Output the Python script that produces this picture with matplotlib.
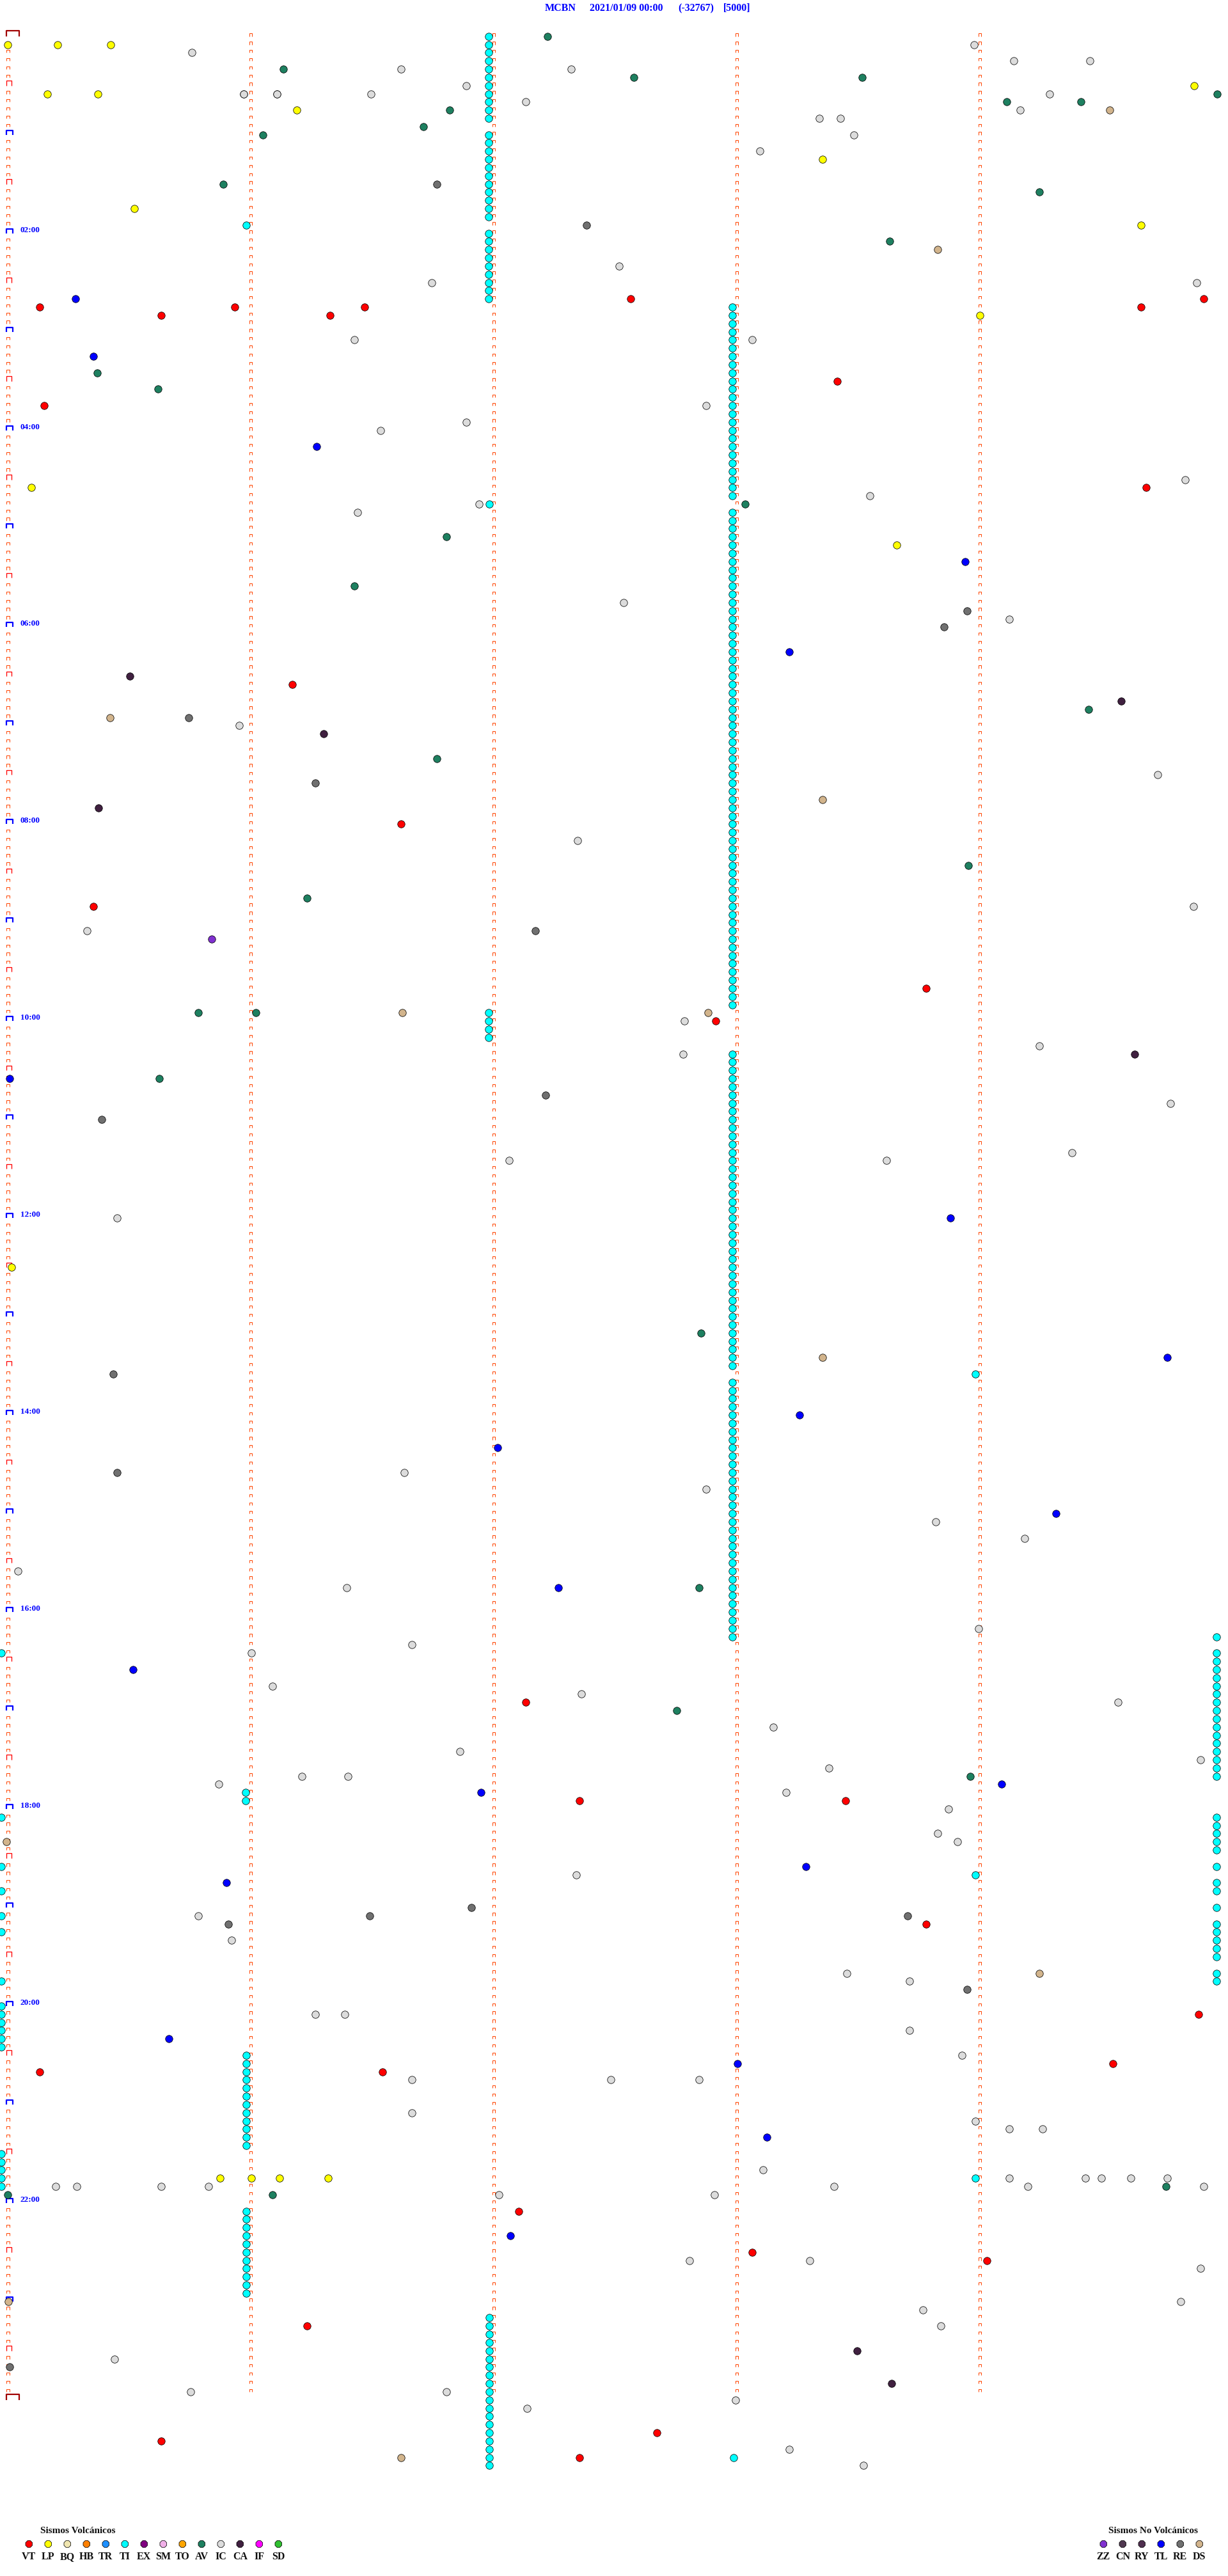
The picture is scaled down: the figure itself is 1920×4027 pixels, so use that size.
import matplotlib
matplotlib.use("Agg")
import matplotlib.pyplot as plt
from matplotlib.collections import LineCollection
import numpy as np

# ---------------- data: events as (row of 5 minutes, seconds within the row) ----------------
VT_row = [33, 34, 33, 34, 33, 32, 33, 32, 42, 45, 55, 79, 96, 106, 116, 120, 203, 215, 215, 230,
          241, 248, 248, 247, 265, 270, 271, 279, 292, 293, 295]
VT_sec = [8.1, 38.1, 56.3, 79.8, 88.4, 154.0, 280.1, 295.5, 205.1, 9.3, 281.3, 70.5, 97.3, 21.5, 227.0,
          175.1, 128.1, 141.4, 207.1, 227.0, 294.3, 8.1, 92.8, 273.2, 126.5, 184.0, 242.0, 74.2,
          160.5, 38.1, 141.4]

LP_row = [1, 1, 1, 7, 7, 9, 6, 15, 21, 23, 34, 55, 62, 150, 261, 261, 261, 261]
LP_sec = [0.3, 12.6, 25.7, 10.0, 22.5, 71.6, 293.1, 201.4, 31.6, 280.1, 240.3, 6.1, 219.7, 1.2,
          52.7, 60.4, 67.3, 79.4]

TL_row = [32, 39, 50, 64, 75, 127, 144, 161, 168, 172, 180, 189, 199, 213, 214, 223, 225, 244,
          247, 256, 268]
TL_sec = [17.0, 21.5, 76.6, 236.7, 193.3, 0.8, 233.0, 286.6, 195.8, 121.2, 259.0, 136.2, 31.2,
          245.6, 117.1, 197.4, 54.3, 40.1, 180.4, 187.7, 124.4]

AV_row = [0, 4, 5, 5, 7, 9, 8, 8, 11, 12, 18, 19, 25, 41, 43, 57, 61, 67, 82, 88, 101, 105, 119,
          119, 127, 158, 189, 204, 212, 263, 262, 263]
AV_sec = [133.5, 68.3, 154.8, 211.2, 298.9, 109.4, 246.9, 265.3, 102.9, 63.2, 53.5, 254.9, 218.0,
          22.3, 37.3, 182.4, 108.6, 85.9, 267.1, 106.2, 237.5, 74.2, 47.4, 61.6, 37.7, 171.4,
          171.0, 165.4, 237.9, 65.7, 286.2, 0.3]

IC_row = [2, 1, 3, 3, 4, 4, 7, 7, 7, 6, 8, 9, 7, 10, 10, 12, 14, 28, 30, 30, 37, 37, 45, 47, 48,
          57, 56, 54, 58, 69, 71, 84, 90, 98, 106, 109, 120, 123, 124, 130, 136, 137, 137, 144,
          175, 177, 181, 183, 187, 189, 194, 196, 197, 201, 202, 203, 206, 209, 210, 211, 212,
          212, 213, 214, 216, 219, 220, 224, 229, 232, 236, 237, 241, 241, 243, 249, 249, 249,
          246, 253, 254, 255, 255, 260, 262, 262, 262, 262, 262, 261, 262, 261, 261, 261, 261,
          262, 263, 263, 271, 271, 272, 276, 277, 279, 283, 288, 287, 287, 289, 294, 296, 7, 7]
IC_sec = [45.7, 238.9, 248.6, 267.4, 97.3, 139.4, 58.6, 66.7, 90.0, 113.5, 128.2, 250.2, 257.5,
          200.6, 205.9, 209.1, 186.0, 151.2, 105.0, 293.8, 85.9, 184.0, 172.7, 113.5, 92.4, 116.7,
          213.2, 291.0, 86.7, 152.4, 247.6, 57.5, 284.1, 141.0, 293.0, 19.9, 167.4, 254.9, 167.0,
          287.4, 263.0, 124.0, 217.2, 27.2, 98.1, 172.7, 229.4, 251.3, 2.8, 83.9, 239.9, 100.1,
          60.4, 65.7, 141.9, 274.4, 189.3, 111.9, 294.7, 203.0, 72.9, 84.3, 52.3, 192.5, 232.6,
          229.8, 234.7, 140.6, 47.4, 55.5, 207.5, 222.9, 76.2, 83.5, 222.9, 100.1, 149.1, 171.0,
          235.9, 100.1, 239.1, 247.6, 255.7, 186.8, 49.8, 12.1, 17.4, 38.1, 204.3, 247.6, 252.1,
          266.3, 270.3, 277.6, 286.6, 295.5, 121.6, 174.7, 168.6, 198.2, 294.7, 289.8, 226.2,
          230.6, 26.7, 180.0, 45.4, 108.6, 128.5, 193.3, 211.6, 58.6, 66.7]

RE_row = [18, 23, 70, 72, 83, 91, 109, 129, 132, 163, 175, 230, 229, 228, 229, 238, 284]
RE_sec = [106.2, 143.1, 237.1, 231.4, 45.0, 76.2, 130.5, 133.0, 23.5, 26.3, 27.2, 54.7, 89.6,
          114.7, 222.5, 237.1, 0.8]

CA_row = [78, 85, 81, 94, 124, 282, 286]
CA_sec = [30.4, 78.2, 275.2, 22.7, 278.5, 210.0, 218.5]

ZZ_row = [110]
ZZ_sec = [50.7]

DS_row = [9, 26, 83, 93, 119, 119, 161, 236, 220, 295, 276]
DS_sec = [272.3, 229.8, 25.5, 201.4, 97.7, 173.1, 201.4, 254.9, 0.0, 97.3, 0.4]

TI_row = [57, 163, 224, 261, 295, 23, 214, 215]
TI_sec = [119.2, 239.1, 239.1, 239.1, 179.5, 59.2, 59.0, 59.0]

# runs of consecutive tremor (TI) rows: first row, last row, seconds
TI_run_first = [0, 12, 24, 119, 278, 33, 58, 124, 164, 246, 265,
                195, 197, 217, 223, 225, 228, 230, 236,
                197, 217, 223, 226, 229, 231, 237, 240, 258]
TI_run_last = [10, 22, 32, 122, 296, 56, 118, 162, 195, 257, 275,
               195, 212, 221, 223, 226, 228, 234, 237,
               197, 217, 223, 226, 229, 231, 237, 245, 262]
TI_run_sec = [119.0, 119.0, 119.0, 119.0, 119.2, 179.1, 179.1, 179.1, 179.1, 59.2, 59.2,
              298.7, 298.7, 298.7, 298.7, 298.7, 298.7, 298.7, 298.7,
              -1.3, -1.3, -1.3, -1.3, -1.3, -1.3, -1.3, -1.3, -1.3]

volc_codes = ["VT", "LP", "BQ", "HB", "TR", "TI", "EX", "SM", "TO", "AV", "IC", "CA", "IF", "SD"]
volc_colors = ["#FF0000", "#FFFF00", "#F0E6B0", "#FF8000", "#1E90FF", "#00FFFF", "#800080",
               "#F0B0E8", "#FFA500", "#1E8060", "#DCDCDC", "#402040", "#FF00FF", "#30C030"]
novolc_codes = ["ZZ", "CN", "RY", "TL", "RE", "DS"]
novolc_colors = ["#8030D0", "#503850", "#4F2F4F", "#0000FF", "#707070", "#D2B48C"]

hour_labels = ["02:00", "04:00", "06:00", "08:00", "10:00", "12:00", "14:00", "16:00", "18:00",
               "20:00", "22:00"]
n_rows = 288          # 24 h of 5-minute rows
minute_cols = [0, 1, 2, 3, 4]

title_parts = ["MCBN", "2021/01/09 00:00", "(-32767)", "[5000]"]

# ---------------- figure ----------------
W, H, DPI = 1920, 4027, 100
fig = plt.figure(figsize=(W / DPI, H / DPI), dpi=DPI)
ax = fig.add_axes([0, 0, 1, 1])
X0, SX = 10.3, 6.333      # pixel of second 0, pixels per second
Y0, SY = 56.7, 12.83      # pixel of row 0, pixels per row
ax.set_xlim(-X0 / SX, (W - X0) / SX)
ax.set_ylim((H - Y0) / SY, -Y0 / SY)
ax.axis("off")

px = 1.0 / SX   # one pixel in seconds
py = 1.0 / SY   # one pixel in rows
LW1 = 72.0 / DPI


def cap(s, r, w, h):
    return [(s, r), (s, r - h * py), (s + w * px, r - h * py), (s + w * px, r)]


# minute columns of small markers
segs = []
for c in minute_cols:
    for r in range(n_rows):
        if c == 0 and r % 6 == 0:
            continue
        segs.append(cap(c * 60, r, 4.2, 4.3))
ax.add_collection(LineCollection(segs, colors="#FF4500", linewidths=LW1, zorder=1))

# half-hour / hour / day markers on first column
red_segs, blue_segs, dark_segs = [], [], []
for r in range(0, n_rows + 1, 6):
    if r == 0 or r == n_rows:
        dark_segs.append(cap(0 - 0.3 * px, r, 20, 9))
    elif r % 12 == 0:
        blue_segs.append(cap(0 - 0.3 * px, r, 10, 7))
    else:
        red_segs.append(cap(0, r, 8, 7.5))
ax.add_collection(LineCollection(red_segs, colors="#FF0000", linewidths=1.3 * LW1, zorder=1))
ax.add_collection(LineCollection(blue_segs, colors="#0000FF", linewidths=2.2 * LW1, zorder=1))
ax.add_collection(LineCollection(dark_segs, colors="#A00000", linewidths=2.2 * LW1, zorder=1))

for i, lab in enumerate(hour_labels):
    r = (i + 1) * 24
    ax.text(21.5 * px, r - 5 * py, lab, color="#0000FF", fontsize=9.5, fontweight="bold",
            family="Liberation Serif", ha="left", va="center", zorder=3)

# ---------------- events ----------------
DOT = 68
EW = 0.75 * LW1
col = dict(zip(volc_codes + novolc_codes, volc_colors + novolc_colors))

ti_r, ti_s = list(TI_row), list(TI_sec)
for a, b, s in zip(TI_run_first, TI_run_last, TI_run_sec):
    for r in range(a, b + 1):
        ti_r.append(r)
        ti_s.append(s)

layers = [("IC", IC_row, IC_sec), ("DS", DS_row, DS_sec), ("RE", RE_row, RE_sec),
          ("CA", CA_row, CA_sec), ("ZZ", ZZ_row, ZZ_sec), ("AV", AV_row, AV_sec),
          ("TI", ti_r, ti_s), ("LP", LP_row, LP_sec), ("TL", TL_row, TL_sec),
          ("VT", VT_row, VT_sec)]
for code, rr, ss in layers:
    ax.scatter(ss, rr, s=DOT, c=col[code], edgecolors="black", linewidths=EW, zorder=2)

# ---------------- title ----------------
title_x = [852, 922, 1060, 1131]
for t, x in zip(title_parts, title_x):
    fig.text(x / W, 1 - 13 / H, t, color="#0000FF", fontsize=11.5, fontweight="bold",
             family="Liberation Serif", ha="left", va="center")

# ---------------- legends ----------------
def legend_block(title, codes, colors, x_first, title_x):
    fig.text(title_x / W, 1 - 3957 / H, title, color="#101010", fontsize=11, fontweight="bold",
             family="Liberation Serif", ha="left", va="center")
    xs = [x_first + 30 * i for i in range(len(codes))]
    ax.scatter([x / W for x in xs], [1 - 3977 / H] * len(xs), s=DOT, c=colors,
               edgecolors="black", linewidths=EW, transform=ax.transAxes, zorder=3,
               marker="8", clip_on=False)
    for x, cd in zip(xs, codes):
        fig.text(x / W, 1 - 3997 / H, cd, color="#101010", fontsize=11.5, fontweight="bold",
                 family="Liberation Serif", ha="center", va="center")


legend_block("Sismos Volcánicos", volc_codes, volc_colors, 45.3, 63)
legend_block("Sismos No Volcánicos", novolc_codes, novolc_colors, 1725.3, 1733)

fig.savefig("out.png", dpi=DPI, facecolor="white")
